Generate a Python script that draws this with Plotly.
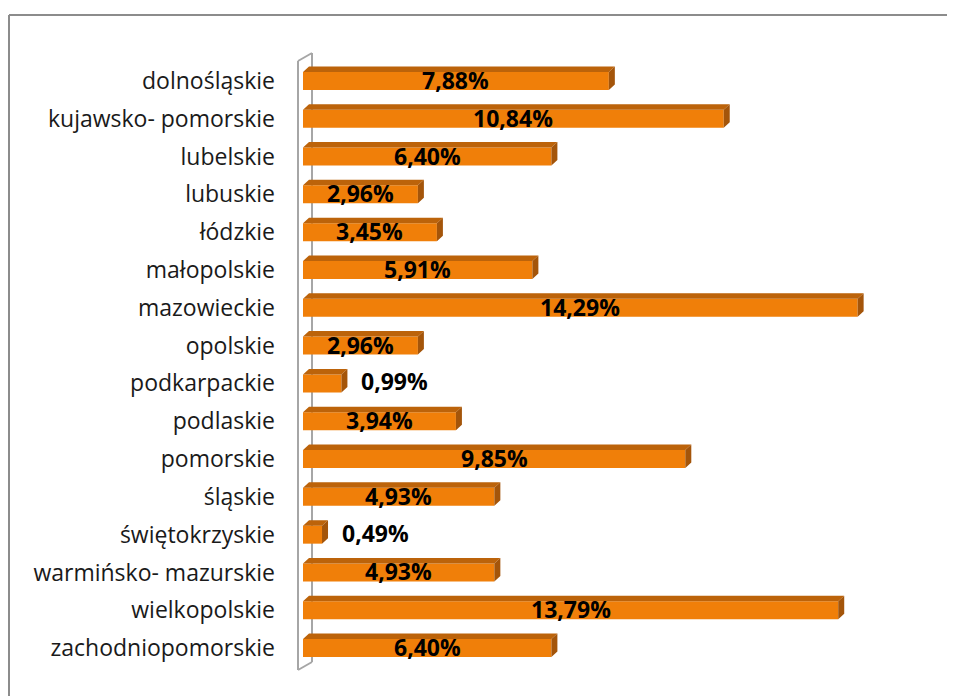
import plotly.graph_objects as go

regions = ["dolnośląskie", "kujawsko- pomorskie", "lubelskie", "lubuskie", "łódzkie",
           "małopolskie", "mazowieckie", "opolskie", "podkarpackie", "podlaskie",
           "pomorskie", "śląskie", "świętokrzyskie", "warmińsko- mazurskie",
           "wielkopolskie", "zachodniopomorskie"]
values = [7.88, 10.84, 6.40, 2.96, 3.45, 5.91, 14.29, 2.96, 0.99, 3.94,
          9.85, 4.93, 0.49, 4.93, 13.79, 6.40]
labels = [f"{v:.2f}".replace(".", ",") + "%" for v in values]

OFF = 8  # page body margin
W, H = 955 - OFF, 696 - OFF
PL, PR, PT, PB = 303, 924, 62, 667
ML, MT = PL - OFF, PT - OFF
MR, MB = W - (PR - OFF), H - (PB - OFF)
XMAX = 16
pw, ph = PR - PL, PB - PT
n = len(values)
band = ph / n
ppx = pw / XMAX

BAR_W = 0.476
DX = 6 / ppx
DY = 5.5 / band

FRONT = "#F07F09"
TOP = "#BC630A"
SIDE = "#A4550A"

ys = list(range(n))
fig = go.Figure()
fig.add_trace(go.Bar(x=values, y=ys, orientation="h", width=BAR_W,
                     marker=dict(color=FRONT, line=dict(width=0)),
                     hoverinfo="skip", showlegend=False))

tx, ty, sx, sy = [], [], [], []
for i, v in enumerate(values):
    t = i - BAR_W / 2
    b = i + BAR_W / 2
    tx += [0, v, v + DX, DX, 0, None]
    ty += [t, t, t - DY, t - DY, t, None]
    sx += [v, v + DX, v + DX, v, v, None]
    sy += [t, t - DY, b - DY, b, t, None]
fig.add_trace(go.Scatter(x=tx, y=ty, fill="toself", fillcolor=TOP, mode="none",
                         hoverinfo="skip", showlegend=False))
fig.add_trace(go.Scatter(x=sx, y=sy, fill="toself", fillcolor=SIDE, mode="none",
                         hoverinfo="skip", showlegend=False))

LABFONT = dict(family="Open Sans", size=23, color="black", weight="bold")
for i, (v, lab) in enumerate(zip(values, labels)):
    if v >= 2:
        fig.add_annotation(x=v / 2, y=i, text=lab, showarrow=False, yshift=1,
                           xanchor="center", yanchor="middle", font=LABFONT)
    else:
        fig.add_annotation(x=v, y=i, text=lab, showarrow=False, xshift=18, yshift=2,
                           xanchor="left", yanchor="middle", font=LABFONT)

def px(x):
    return (x - PL) / pw

def py(y):
    return 1 - (y - PT) / ph

grey = "#A6A6A6"
shapes = [
    dict(type="line", xref="paper", yref="paper", x0=px(9), y0=py(15), x1=px(1000), y1=py(15),
         line=dict(color="#8C8C8C", width=2)),
    dict(type="line", xref="paper", yref="paper", x0=px(9), y0=py(15), x1=px(9), y1=py(760),
         line=dict(color="#8C8C8C", width=2)),
    dict(type="line", xref="paper", yref="paper", x0=px(312), y0=py(53), x1=px(312), y1=py(662),
         line=dict(color=grey, width=2), layer="below"),
    dict(type="line", xref="paper", yref="paper", x0=px(298), y0=py(61), x1=px(298), y1=py(670),
         line=dict(color=grey, width=2)),
    dict(type="line", xref="paper", yref="paper", x0=px(298), y0=py(61), x1=px(312), y1=py(53),
         line=dict(color=grey, width=2)),
    dict(type="line", xref="paper", yref="paper", x0=px(298), y0=py(670), x1=px(312), y1=py(662),
         line=dict(color=grey, width=2)),
]

fig.update_layout(
    width=W, height=H,
    margin=dict(l=ML, r=MR, t=MT, b=MB),
    paper_bgcolor="white", plot_bgcolor="rgba(0,0,0,0)",
    showlegend=False, shapes=shapes,
    xaxis=dict(range=[0, XMAX], visible=False, fixedrange=True),
    yaxis=dict(range=[n - 0.5, -0.5], tickvals=ys, ticktext=regions,
               showgrid=False, zeroline=False, showline=False, ticks="",
               ticklabelstandoff=27,
               tickfont=dict(family="Open Sans", size=23, color="#1A1A1A")),
)

fig.write_html("out.html")
